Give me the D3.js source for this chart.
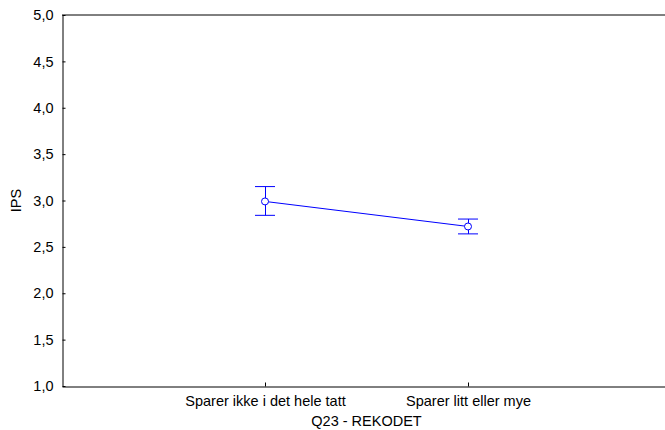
<!DOCTYPE html>
<html>
<head>
<meta charset="utf-8">
<script src="https://cdn.jsdelivr.net/npm/d3@7"></script>
<style>
  body { margin: 0; background: #fff; }
  text { font-family: Arial, "Liberation Sans", sans-serif; font-size: 14.5px; fill: #000; }
</style>
</head>
<body>
<div id="viz"></div>
<script>
// data
var categories = ["Sparer ikke i det hele tatt", "Sparer litt eller mye"];
var means = [2.99, 2.72];
var lower = [2.84, 2.64];
var upper = [3.15, 2.80];
var yTicks = [1.0, 1.5, 2.0, 2.5, 3.0, 3.5, 4.0, 4.5, 5.0];

var width = 665,
    height = 430,
    margin = {top: 15, right: -6, bottom: 44, left: 62};

var data = categories.map(function(c, i) {
  return {cat: c, mean: means[i], lo: lower[i], hi: upper[i]};
});

var svg = d3.select('#viz').append('svg')
  .attr('width', width)
  .attr('height', height);

// x scale: categories at 1/3 and 2/3 of the plot width
var x = d3.scalePoint()
  .domain(categories)
  .range([margin.left, width - margin.right])
  .padding(1);

var y = d3.scaleLinear()
  .domain([1, 5])
  .range([height - margin.bottom, margin.top]);

var fmt = function(d) { return d3.format('.1f')(d).replace('.', ','); };
var font = 'Arial, "Liberation Sans", sans-serif';

// frame top line
svg.append('line')
  .attr('x1', margin.left).attr('x2', width - margin.right)
  .attr('y1', margin.top).attr('y2', margin.top)
  .attr('stroke', '#000');

// left axis, ticks inside
var yAxis = svg.append('g')
  .attr('transform', 'translate(' + (margin.left + 0.5) + ',0)')
  .call(d3.axisLeft(y).tickValues(yTicks).tickFormat(fmt).tickSizeInner(-3).tickSizeOuter(0).tickPadding(9));
yAxis.select('.domain').attr('stroke', '#000');
yAxis.selectAll('text').style('font-size', '14.5px').style('font-family', font);

// bottom axis, ticks inside
var xAxis = svg.append('g')
  .attr('transform', 'translate(0,' + (height - margin.bottom + 0.5) + ')')
  .call(d3.axisBottom(x).tickSizeInner(-4).tickSizeOuter(0).tickPadding(9));
xAxis.select('.domain').attr('stroke', '#000');
xAxis.selectAll('text').style('font-size', '14.5px').style('font-family', font);

// axis titles
svg.append('text')
  .attr('transform', 'translate(21,' + y(3) + ') rotate(-90)')
  .attr('text-anchor', 'middle')
  .text('IPS');

svg.append('text')
  .attr('x', (margin.left + width - margin.right) / 2)
  .attr('y', 426)
  .attr('text-anchor', 'middle')
  .text('Q23 - REKODET');

// mean line
var line = d3.line()
  .x(function(d) { return x(d.cat); })
  .y(function(d) { return y(d.mean); });

svg.append('path')
  .datum(data)
  .attr('fill', 'none')
  .attr('stroke', '#0000ff')
  .attr('stroke-width', 1)
  .attr('d', line);

// error bars
var bars = svg.selectAll('.ebar')
  .data(data)
  .enter().append('g')
  .attr('class', 'ebar')
  .attr('stroke', '#0000ff')
  .attr('fill', 'none');

bars.append('line')
  .attr('x1', function(d) { return Math.round(x(d.cat)) + 0.5; })
  .attr('x2', function(d) { return Math.round(x(d.cat)) + 0.5; })
  .attr('y1', function(d) { return y(d.hi); })
  .attr('y2', function(d) { return y(d.lo); });

bars.append('line')
  .attr('x1', function(d) { return x(d.cat) - 10; })
  .attr('x2', function(d) { return x(d.cat) + 10; })
  .attr('y1', function(d) { return y(d.hi); })
  .attr('y2', function(d) { return y(d.hi); });

bars.append('line')
  .attr('x1', function(d) { return x(d.cat) - 10; })
  .attr('x2', function(d) { return x(d.cat) + 10; })
  .attr('y1', function(d) { return y(d.lo); })
  .attr('y2', function(d) { return y(d.lo); });

bars.append('circle')
  .attr('cx', function(d) { return x(d.cat); })
  .attr('cy', function(d) { return y(d.mean); })
  .attr('r', 3.5)
  .attr('fill', '#fff');
</script>
</body>
</html>
